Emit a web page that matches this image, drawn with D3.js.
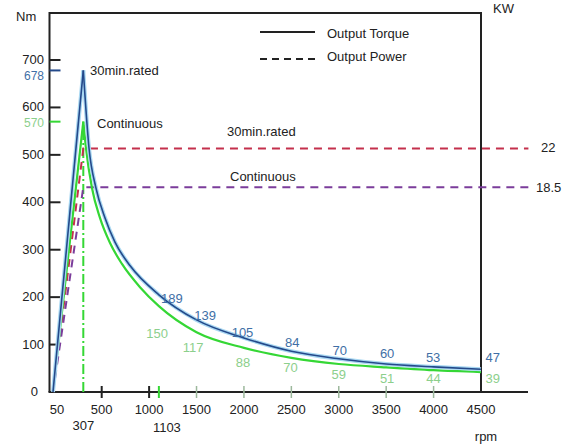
<!DOCTYPE html>
<html>
<head>
<meta charset="utf-8">
<script src="https://cdn.jsdelivr.net/npm/d3@7"></script>
<style>
  body { margin: 0; background: #fff; }
  text { font-family: "Liberation Sans", Arial, sans-serif; font-size: 13px; fill: #222; }
</style>
</head>
<body>
<script>
// chart size
var w = 574;
var h = 446;

// torque curves (rpm / Nm)
var rpmRise = [50, 307];
var rated30Rise = [0, 678];
var contRise = [0, 570];

var rpmFall30 = [307, 367, 440, 535, 640, 800, 1103, 1500, 2000, 2500, 3000, 3500, 4000, 4500];
var rated30Fall = [678, 514, 430, 367, 316, 266, 205, 152, 114, 86, 70, 59, 53, 48];
var rpmFallCont = [307, 335, 398, 482, 588, 714, 904, 1103, 1500, 2000, 2500, 3000, 3500, 4000, 4500];
var contFall = [570, 514, 430, 367, 314, 270, 221, 181, 126, 93, 72, 59, 52, 46, 42];

// output power (kW)
var rpmPower = [50, 307, 5000];
var power30 = [0, 22, 22];
var powerCont = [0, 18.5, 18.5];

// axis ticks
var yTicks = [0, 100, 200, 300, 400, 500, 600, 700];
var xTicksBlack = [500, 1000];
var xTicksGray = [1500, 2000, 2500, 3000, 3500, 4000];
var xTickLabels = [50, 500, 1000, 1500, 2000, 2500, 3000, 3500, 4000, 4500];

// value labels [text, rpm, Nm anchor]
var rated30Labels = [["189", 1240, 188], ["139", 1590, 152], ["105", 1985, 116], ["84", 2510, 95],
  ["70", 3010, 78], ["60", 3510, 72], ["53", 3995, 63], ["47", 4625, 63]];
var contLabels = [["150", 1085, 114], ["117", 1465, 84], ["88", 1990, 53], ["70", 2490, 42],
  ["59", 3000, 27], ["51", 3510, 19], ["44", 4000, 19], ["39", 4625, 19]];

var blue = "#24498a";
var blueHalo = "#a9d8f2";
var green = "#35d735";
var blueText = "#3f6fa6";
var greenText = "#8ccf8c";
var red = "#c4304c";
var purple = "#7b3d9b";

var svg = d3.select("body").append("svg")
  .attr("width", w)
  .attr("height", h);

// scales (the drawing's rpm axis is not quite linear at the low end)
var x = d3.scaleLinear().domain([50, 307, 500, 4500]).range([53, 83.3, 101.7, 481]);
var y = d3.scaleLinear().domain([0, 700]).range([392, 60]);
var yKw = d3.scaleLinear().domain([0, 30]).range([392, 60]);

var x0 = 49.5, xEnd = 528, yTop = 13, yBase = 392;

var line = d3.line().x(function(d) { return x(d[0]); }).y(function(d) { return y(d[1]); });
var curve = d3.line().curve(d3.curveMonotoneX)
  .x(function(d) { return x(d[0]); }).y(function(d) { return y(d[1]); });
var kwLine = d3.line().x(function(d) { return x(d[0]); }).y(function(d) { return yKw(d[1]); });

// frame
svg.append("path")
  .attr("d", "M" + x0 + "," + yBase + "V" + yTop + "H" + x(4500) + "V" + yBase)
  .attr("fill", "none").attr("stroke", "#222").attr("stroke-width", 2);
svg.append("line")
  .attr("x1", x0 - 1).attr("x2", xEnd).attr("y1", yBase).attr("y2", yBase)
  .attr("stroke", "#222").attr("stroke-width", 2);

// y ticks + labels
yTicks.forEach(function(t) {
  if (t > 0) {
    svg.append("line").attr("x1", x0).attr("x2", x0 + 11)
      .attr("y1", y(t)).attr("y2", y(t)).attr("stroke", "#222").attr("stroke-width", 2);
  }
  svg.append("text").attr("x", t == 0 ? 38 : 44).attr("y", y(t) + 4)
    .attr("text-anchor", "end").text(t);
});
// peak ticks
[[678, blue, blueText, 10], [570, green, greenText, 5]].forEach(function(p) {
  svg.append("line").attr("x1", x0).attr("x2", x0 + 11)
    .attr("y1", y(p[0])).attr("y2", y(p[0])).attr("stroke", p[1]).attr("stroke-width", 2);
  svg.append("text").attr("x", 44).attr("y", y(p[0]) + p[3])
    .attr("text-anchor", "end").style("fill", p[2]).style("font-size", "12px").text(p[0]);
});

// x ticks
xTicksBlack.forEach(function(t) {
  svg.append("line").attr("x1", x(t)).attr("x2", x(t)).attr("y1", yBase - 6).attr("y2", yBase + 6)
    .attr("stroke", "#222").attr("stroke-width", 2);
});
xTicksGray.forEach(function(t) {
  svg.append("line").attr("x1", x(t)).attr("x2", x(t)).attr("y1", yBase - 6).attr("y2", yBase + 6)
    .attr("stroke", "#9cb89c").attr("stroke-width", 1.5);
});
svg.append("line").attr("x1", x(1103)).attr("x2", x(1103)).attr("y1", yBase - 6).attr("y2", yBase + 6)
  .attr("stroke", green).attr("stroke-width", 2);

xTickLabels.forEach(function(t) {
  svg.append("text").attr("x", t == 50 ? 57 : x(t)).attr("y", 414)
    .attr("text-anchor", "middle").text(t);
});
svg.append("text").attr("x", x(307)).attr("y", 430).attr("text-anchor", "middle").text("307");
svg.append("text").attr("x", x(1103) + 8).attr("y", 432).attr("text-anchor", "middle").text("1103");

// continuous vertical marker at 307
svg.append("line").attr("x1", x(307)).attr("x2", x(307)).attr("y1", y(0)).attr("y2", y(570))
  .attr("stroke", green).attr("stroke-width", 2).attr("stroke-dasharray", "10,3,2,3");

// power dashed lines
svg.append("path").attr("d", kwLine(d3.zip(rpmPower, power30)))
  .attr("fill", "none").attr("stroke", red).attr("stroke-width", 2).attr("stroke-dasharray", "8,6");
svg.append("path").attr("d", kwLine(d3.zip(rpmPower, powerCont)))
  .attr("fill", "none").attr("stroke", purple).attr("stroke-width", 2).attr("stroke-dasharray", "8,6");

// torque curves
function torque(rise, riseVals, fall, fallVals, col, halo) {
  var dRise = line(d3.zip(rise, riseVals));
  var dFall = curve(d3.zip(fall, fallVals));
  if (halo) {
    [dRise, dFall].forEach(function(d) {
      svg.append("path").attr("d", d).attr("fill", "none").attr("stroke", halo)
        .attr("stroke-width", 4).attr("stroke-linejoin", "round");
    });
  }
  [dRise, dFall].forEach(function(d) {
    svg.append("path").attr("d", d).attr("fill", "none").attr("stroke", col)
      .attr("stroke-width", halo ? 1.6 : 2.2).attr("stroke-linejoin", "round");
  });
}
torque(rpmRise, contRise, rpmFallCont, contFall, green, null);
torque(rpmRise, rated30Rise, rpmFall30, rated30Fall, blue, blueHalo);

// value labels
rated30Labels.forEach(function(l) {
  svg.append("text").attr("x", x(l[1])).attr("y", y(l[2])).attr("text-anchor", "middle")
    .style("fill", blueText).text(l[0]);
});
contLabels.forEach(function(l) {
  svg.append("text").attr("x", x(l[1])).attr("y", y(l[2])).attr("text-anchor", "middle")
    .style("fill", greenText).text(l[0]);
});

// annotations
svg.append("text").attr("x", 90).attr("y", 75).text("30min.rated");
svg.append("text").attr("x", 97).attr("y", 128).text("Continuous");
svg.append("text").attr("x", 227).attr("y", 136).text("30min.rated");
svg.append("text").attr("x", 230).attr("y", 181).text("Continuous");
svg.append("text").attr("x", 541).attr("y", yKw(22) + 3).text("22");
svg.append("text").attr("x", 536).attr("y", yKw(18.5) + 5).text("18.5");

// axis titles
svg.append("text").attr("x", 16).attr("y", 21).text("Nm");
svg.append("text").attr("x", 493).attr("y", 13).text("KW");
svg.append("text").attr("x", 486).attr("y", 441).attr("text-anchor", "middle").text("rpm");

// legend
svg.append("line").attr("x1", 260).attr("x2", 315).attr("y1", 32).attr("y2", 32)
  .attr("stroke", "#222").attr("stroke-width", 2);
svg.append("line").attr("x1", 260).attr("x2", 315).attr("y1", 59).attr("y2", 59)
  .attr("stroke", "#222").attr("stroke-width", 2).attr("stroke-dasharray", "7,5");
svg.append("text").attr("x", 327).attr("y", 38).text("Output Torque");
svg.append("text").attr("x", 327).attr("y", 61).text("Output Power");
</script>
</body>
</html>
